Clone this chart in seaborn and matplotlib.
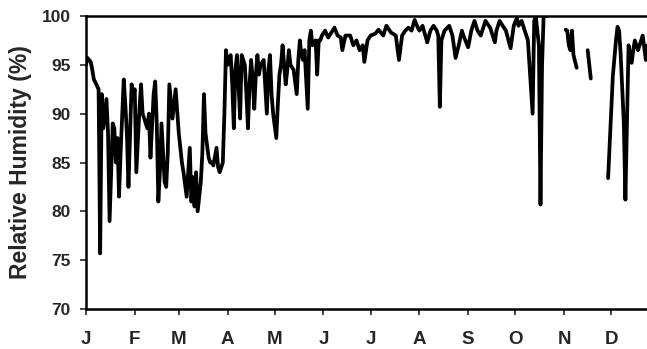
import matplotlib
matplotlib.use("Agg")
import matplotlib.pyplot as plt
import numpy as np
import pandas as pd
import seaborn as sns

# day of year and daily relative humidity (%); nan = gap
days = [0, 1, 3, 4, 5, 6, 8, 9, 10, 11, 13, 14, 15, 17, 18, 19, 20, 21, 22, 24,
        25, 26, 27, 29, 30, 31, 32, 34, 35, 36, 38, 39, 40, 41, 43, 44, 45, 46,
        47, 48, 50, 51, 52, 53, 55, 56, 57, 59, 60, 61, 62, 64, 65, 66, 67, 68,
        69, 70, 71, 73, 74, 75, 76, 78, 79, 80, 81, 83, 84, 85, 87, 88, 89, 90,
        92, 93, 94, 95, 96, 97, 98, 99, 101, 102, 103, 104, 105, 106, 107, 108,
        109, 110, 111, 113, 115, 116, 117, 118, 119, 121, 122, 123, 124, 125,
        127, 128, 129, 130, 132, 134, 135, 136, 137, 138, 139, 141, 142, 143,
        144, 146, 147, 148, 149, 150, 152, 154, 156, 158, 160, 162, 163, 165,
        168, 170, 172, 174, 176, 177, 179, 181, 184, 186, 189, 191, 194, 197,
        199, 201, 203, 205, 207, 209, 211, 212, 214, 217, 219, 221, 223, 224,
        225, 226, 228, 231, 233, 235, 237, 239, 240, 243, 245, 247, 249, 251,
        253, 254, 257, 260, 261, 263, 265, 267, 270, 272, 274, 275, 277, 279,
        281, 282, 284, 285, 286, 288, 289, 290, 291, 293, 294,
        305, 306, 307, 308, 309, 310, 312, 313,
        319, 321, 322,
        332, 335, 337, 338, 339, 340, 342, 343, 345, 347, 348, 349, 351, 352,
        354, 356, 357]
rh = [95.0, 95.7, 95.3, 94.5, 93.5, 93.2, 92.5, 75.7, 92.0, 88.5, 91.5, 88.0,
      79.0, 89.0, 88.5, 85.0, 87.5, 81.5, 86.0, 93.5, 91.0, 88.0, 82.5, 93.0,
      92.0, 92.5, 84.0, 90.5, 93.0, 90.0, 89.0, 88.5, 90.0, 85.5, 92.0, 93.3,
      89.0, 81.0, 84.0, 89.0, 83.0, 82.5, 86.0, 93.0, 89.5, 91.0, 92.5, 88.0,
      86.5, 85.0, 84.0, 81.5, 84.0, 86.5, 81.0, 83.5, 80.5, 84.0, 80.0, 83.0,
      86.0, 92.0, 88.0, 85.5, 85.0, 85.0, 84.7, 86.5, 84.5, 84.0, 85.0, 90.0,
      96.5, 95.0, 96.0, 93.0, 88.5, 94.5, 96.0, 93.0, 89.5, 96.0, 95.0, 92.0,
      88.5, 93.0, 95.5, 93.5, 90.5, 94.0, 96.0, 94.0, 95.0, 95.5, 90.0, 94.5,
      96.0, 92.0, 90.0, 87.5, 91.0, 94.0, 95.0, 97.0, 93.0, 94.5, 96.5, 95.0,
      94.5, 92.0, 95.5, 97.5, 96.0, 95.5, 96.5, 90.5, 97.5, 98.5, 97.0, 97.5,
      94.0, 97.5, 97.5, 98.0, 98.5, 97.8, 98.3, 98.8, 98.0, 97.8, 96.5, 98.0,
      98.0, 97.0, 97.5, 96.5, 97.0, 95.3, 97.5, 98.0, 98.2, 98.6, 98.0, 99.0,
      98.3, 98.0, 95.5, 98.0, 98.5, 98.8, 98.5, 99.6, 98.8, 98.5, 99.0, 97.3,
      98.5, 99.0, 98.5, 98.0, 90.7, 97.5, 98.5, 99.0, 98.0, 95.7, 97.0, 98.5,
      98.0, 96.8, 98.5, 99.5, 98.5, 98.0, 99.0, 99.5, 98.8, 97.3, 98.5, 99.5,
      99.0, 98.5, 96.7, 99.0, 99.8, 99.0, 99.5, 98.5, 97.5, 95.0, 90.0, 99.5,
      100.0, 97.0, 80.7, 95.0, 100.0, 100.0, np.nan,
      98.6, 98.5, 97.0, 96.5, 98.5, 96.0, 94.7, np.nan,
      96.5, 93.6, np.nan,
      83.4, 93.8, 97.5, 98.9, 98.5, 96.0, 89.0, 81.2, 97.0, 95.2, 96.5, 97.5,
      96.5, 97.0, 98.0, 95.5, 97.0]

month_starts = [0, 31, 59, 90, 120, 151, 181, 212, 243, 273, 304, 334]
month_labels = ["J", "F", "M", "A", "M", "J", "J", "A", "S", "O", "N", "D"]

df = pd.DataFrame({"day": days, "rh": rh})
df["seg"] = df["rh"].isna().cumsum()
df = df.dropna()

sns.set_style("ticks")
plt.rcParams["font.family"] = ["Liberation Sans", "DejaVu Sans"]
plt.rcParams["font.weight"] = "bold"

fig = plt.figure(figsize=(6.47, 3.49), dpi=100)
# right edge of the axes lies past the image, as in the cropped original
ax = fig.add_axes([86 / 647, 40 / 349, 574 / 647, 293 / 349])

sns.lineplot(data=df, x="day", y="rh", units="seg", estimator=None,
             color="black", linewidth=2.7, ax=ax, legend=False)

ax.set_xlim(0, 365)
ax.set_ylim(70, 100)
ax.set_yticks(np.arange(70, 101, 5))
ax.set_xticks(month_starts)
ax.set_xticklabels(month_labels)
ax.tick_params(axis="x", direction="out", length=4, width=1.2,
               labelsize=13.5, pad=12)
ax.tick_params(axis="y", direction="out", length=4, width=1.2,
               labelsize=12.5, pad=7)
for lab in ax.get_xticklabels() + ax.get_yticklabels():
    lab.set_fontweight("bold")

ax.set_xlabel("")
ax.set_ylabel("Relative Humidity (%)", fontsize=16.5, fontweight="bold")
ax.yaxis.set_label_coords(-0.094, 0.5)

for side in ["left", "bottom", "top"]:
    ax.spines[side].set_linewidth(1.8)
    ax.spines[side].set_color("black")
ax.spines["top"].set_visible(True)
ax.spines["right"].set_visible(True)

fig.savefig("out.png", dpi=100)
